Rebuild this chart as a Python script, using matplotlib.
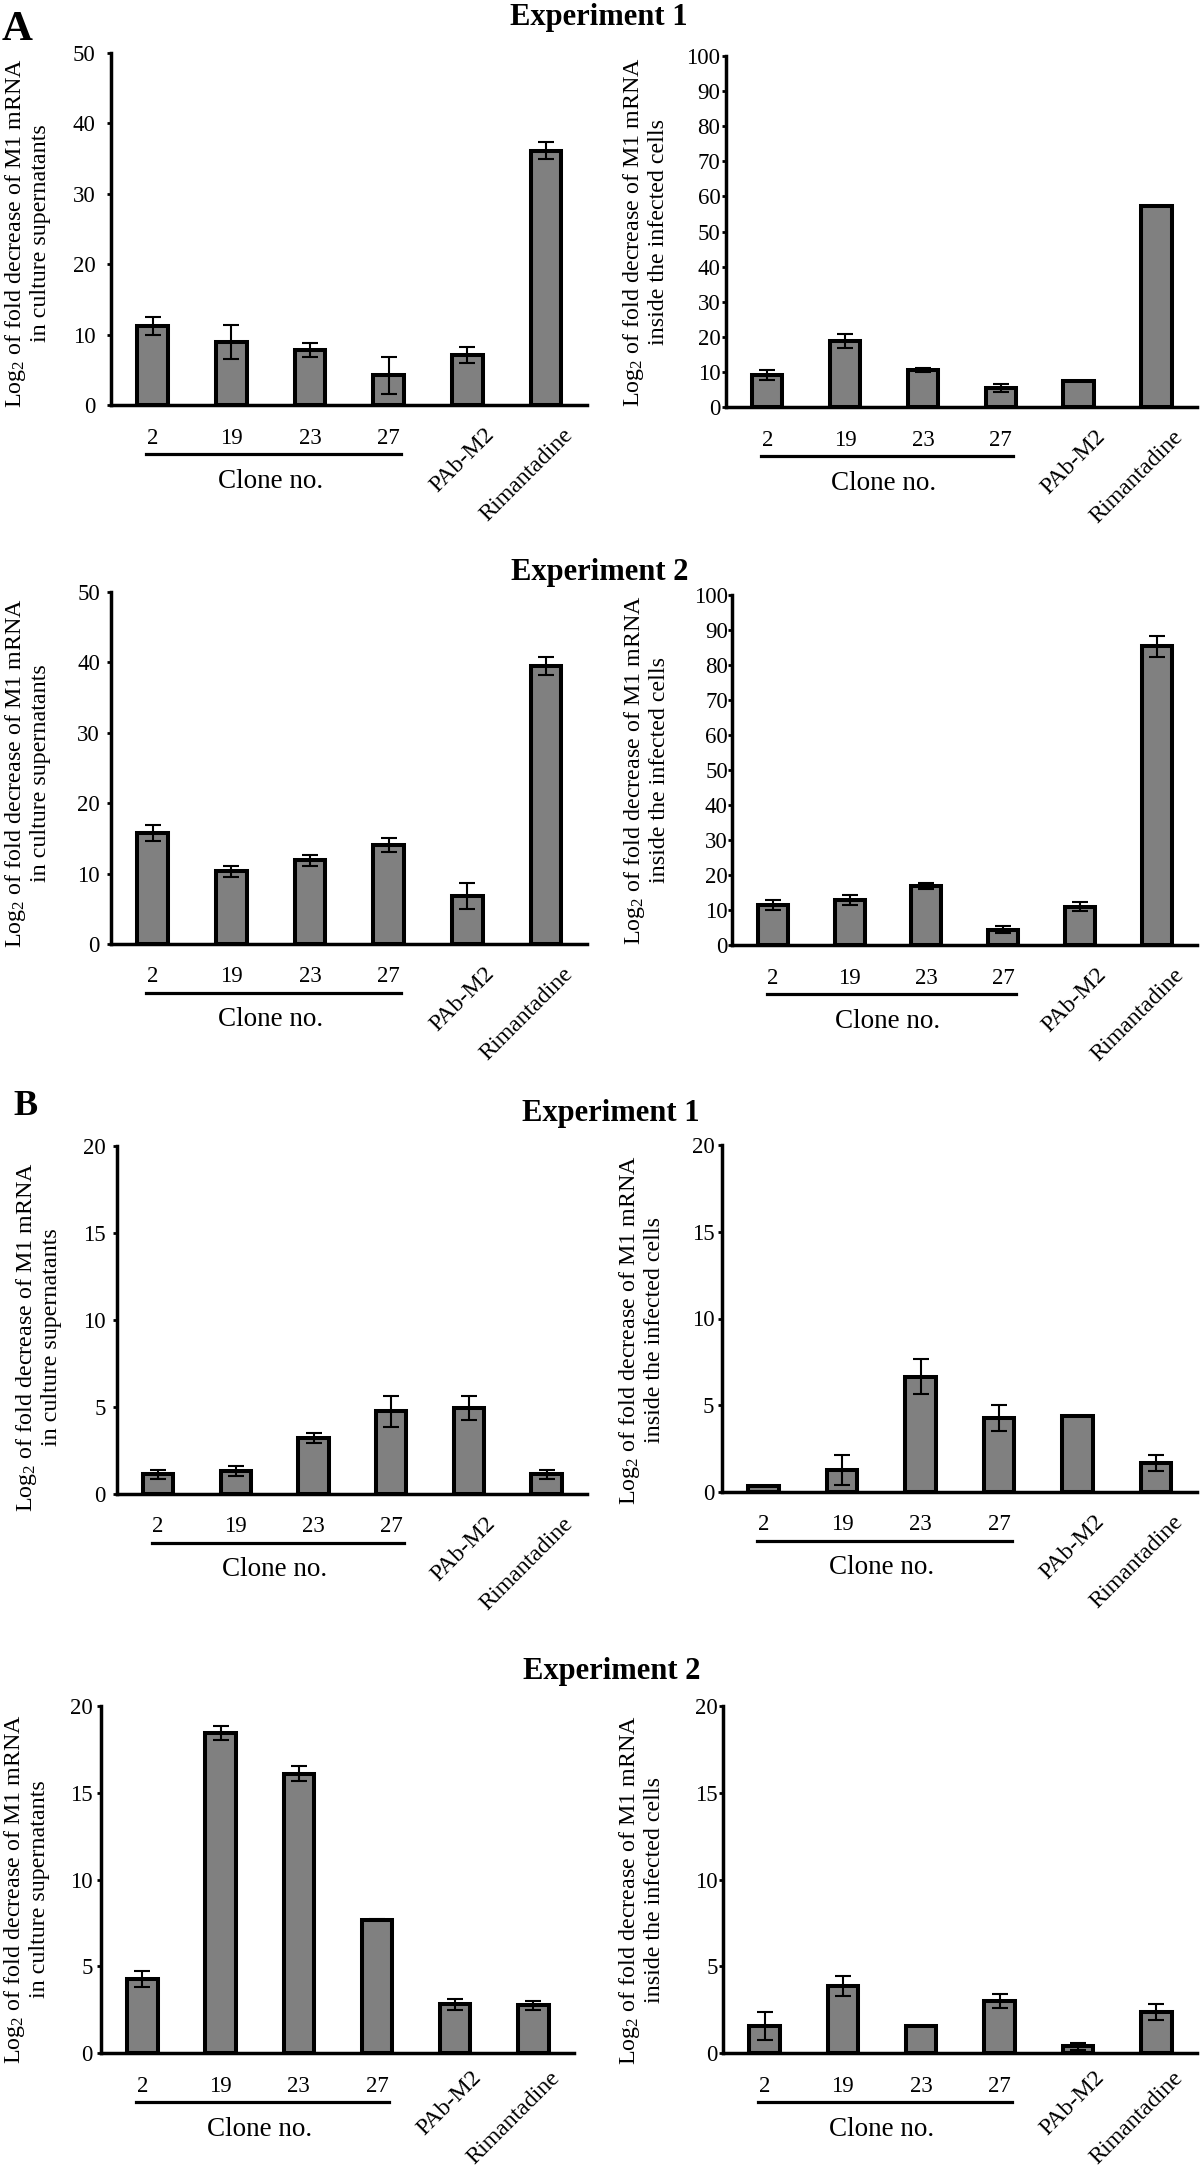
import matplotlib
matplotlib.use("Agg")
import matplotlib.pyplot as plt
import matplotlib.transforms as mtransforms

plt.rcParams['font.family'] = ['Liberation Serif', 'DejaVu Serif']
plt.rcParams['mathtext.fontset'] = 'custom'
plt.rcParams['mathtext.rm'] = 'Liberation Serif'
plt.rcParams['mathtext.it'] = 'Liberation Serif:italic'

# data
categories = ['2', '19', '23', '27', 'PAb-M2', 'Rimantadine']

a1_sup = [11.2, 8.9, 7.8, 4.2, 7.1, 36.1]
a1_sup_err = [1.3, 2.4, 1.0, 2.6, 1.2, 1.2]
a1_cell = [9.2, 18.7, 10.5, 5.4, 7.5, 57.2]
a1_cell_err = [1.4, 2.0, 0.6, 1.2, 0, 0]

a2_sup = [15.8, 10.3, 11.9, 14.0, 6.8, 39.5]
a2_sup_err = [1.1, 0.8, 0.8, 1.0, 1.8, 1.3]
a2_cell = [11.4, 12.8, 16.8, 4.3, 11.0, 85.3]
a2_cell_err = [1.5, 1.5, 0.8, 1.0, 1.3, 2.9]

b1_sup = [1.13, 1.33, 3.24, 4.76, 4.96, 1.13]
b1_sup_err = [0.25, 0.28, 0.29, 0.9, 0.68, 0.27]
b1_cell = [0.35, 1.27, 6.64, 4.28, 4.36, 1.69]
b1_cell_err = [0, 0.85, 1.0, 0.74, 0, 0.47]

b2_sup = [4.25, 18.45, 16.1, 7.69, 2.8, 2.74]
b2_sup_err = [0.45, 0.42, 0.45, 0.05, 0.33, 0.27]
b2_cell = [1.55, 3.86, 1.55, 3.0, 0.39, 2.36]
b2_cell_err = [0.8, 0.6, 0, 0.38, 0.19, 0.46]

label_sup = "Log$_2$ of fold decrease of M1 mRNA\nin culture supernatants"
label_cell = "Log$_2$ of fold decrease of M1 mRNA\ninside the infected cells"

W, H = 1200, 2168
fig = plt.figure(figsize=(W / 100, H / 100), dpi=100)


def px(dx, dy):
    return mtransforms.ScaledTranslation(dx / 100, dy / 100, fig.dpi_scale_trans)


def panel(box, vals, errs, ymax, ystep, ylabel, label_xy, pad, rot_dy=-19):
    l, t, r, b = box
    ax = fig.add_axes([l / W, 1 - b / H, (r - l) / W, (b - t) / H])
    x = list(range(len(vals)))
    ax.bar(x, vals, width=0.39, color='#808080', edgecolor='black', linewidth=2.9, zorder=2)
    ax.errorbar(x, vals, yerr=errs, fmt='none', ecolor='black', elinewidth=1.5,
                capsize=6, capthick=1.5, zorder=3)
    ax.set_xlim(-0.53, 5.52)
    ax.set_ylim(0, ymax)
    ax.set_yticks(range(0, ymax + 1, ystep))
    ax.tick_params(axis='y', direction='out', length=3, width=2, labelsize=16.5, pad=pad)
    ax.set_xticks([])
    for s in ['top', 'right']:
        ax.spines[s].set_visible(False)
    for s in ['left', 'bottom']:
        ax.spines[s].set_linewidth(2.5)

    base = ax.get_xaxis_transform()
    for i, c in enumerate(categories):
        if i < 4:
            ax.text(i, 0, c, transform=base + px(0, -33), ha='center', va='center', fontsize=16.5)
        else:
            ax.text(i, 0, c, transform=base + px(16, rot_dy), ha='right', va='top',
                    rotation=45, rotation_mode='anchor', fontsize=17.2)
    ax.plot([-0.08, 3.16], [0, 0], color='black', lw=2.3, transform=base + px(0, -49),
            clip_on=False)
    ax.text(1.5, 0, 'Clone no.', transform=base + px(0, -76), ha='center', va='center',
            fontsize=19.5)

    fig.text(label_xy[0] / W, 1 - label_xy[1] / H, ylabel, rotation=90, ha='center',
             va='center', multialignment='center', fontsize=17.3, linespacing=1.15)
    return ax


panel((111, 53, 587, 405), a1_sup, a1_sup_err, 50, 10, label_sup, (27, 233), 8)
panel((726, 56, 1197, 407), a1_cell, a1_cell_err, 100, 10, label_cell, (645, 232), 1)
panel((111, 592, 587, 944), a2_sup, a2_sup_err, 50, 10, label_sup, (27, 773), 5)
panel((732, 595, 1197, 945), a2_cell, a2_cell_err, 100, 10, label_cell, (646, 770), 0)
panel((117, 1146, 587, 1494), b1_sup, b1_sup_err, 20, 5, label_sup, (38, 1337), 5)
panel((722, 1145, 1197, 1492), b1_cell, b1_cell_err, 20, 5, label_cell, (641, 1330), 2.5)
panel((101, 1706, 574, 2053), b2_sup, b2_sup_err, 20, 5, label_sup, (26, 1889), 3, rot_dy=-14)
panel((723, 1706, 1197, 2053), b2_cell, b2_cell_err, 20, 5, label_cell, (641, 1890), 1, rot_dy=-14)

# titles and panel letters
for (tx, ty, s) in [(599, 25, 'Experiment 1'), (600, 580, 'Experiment 2'),
                    (611, 1121, 'Experiment 1'), (612, 1679, 'Experiment 2')]:
    fig.text(tx / W, 1 - ty / H, s, ha='center', va='baseline', fontsize=22, fontweight='bold')
fig.text(2 / W, 1 - 40 / H, 'A', ha='left', va='baseline', fontsize=31, fontweight='bold')
fig.text(13 / W, 1 - 1115 / H, 'B', ha='left', va='baseline', fontsize=26, fontweight='bold')

fig.savefig('out.png', dpi=100, facecolor='white')
